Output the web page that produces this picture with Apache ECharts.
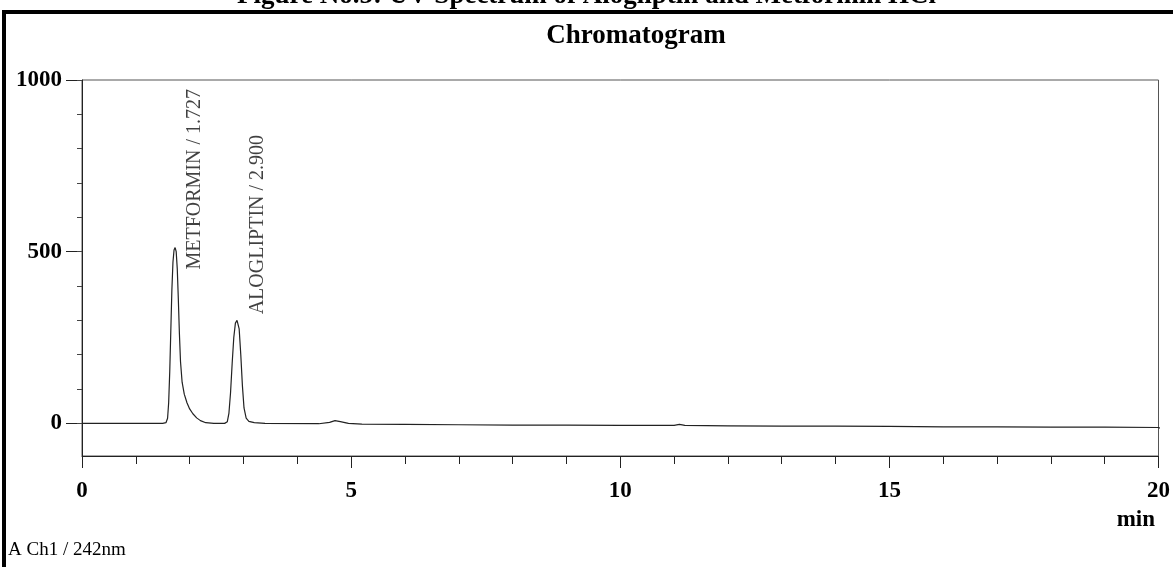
<!DOCTYPE html>
<html>
<head>
<meta charset="utf-8">
<script src="https://cdn.jsdelivr.net/npm/echarts@6/dist/echarts.min.js"></script>
<style>
  html, body { margin: 0; padding: 0; background: #fff; }
  #chart { width: 1173px; height: 567px; }
</style>
</head>
<body>
<div id="chart"></div>
<script>
// 色谱图数据 (min, mAU)
var traceTime = [0, 1.5, 1.56, 1.59, 1.61, 1.63, 1.65, 1.67, 1.69, 1.71, 1.73, 1.75, 1.77, 1.79, 1.81, 1.83, 1.86, 1.9, 1.95, 2.0, 2.06, 2.13, 2.2, 2.3, 2.45,
  2.65, 2.7, 2.73, 2.76, 2.79, 2.82, 2.85, 2.88, 2.9, 2.92, 2.95, 2.98, 3.01, 3.05, 3.1, 3.2, 3.4,
  4.4, 4.6, 4.7, 4.8, 4.95, 5.2, 6, 7, 8, 9, 10, 11.0, 11.1, 11.2, 12, 13, 14, 15, 16, 17, 18, 19, 20, 20.3]
var traceValue = [0, 0, 2, 15, 60, 150, 270, 390, 470, 505, 512, 500, 450, 360, 260, 180, 120, 85, 60, 42, 28, 16, 8, 2, 0,
  0, 5, 30, 90, 175, 250, 292, 300, 298, 275, 200, 110, 45, 15, 6, 2, 0,
  -1, 3, 8, 5, 0, -2, -3, -4, -5, -5, -6, -6, -3, -6, -7, -8, -8, -9, -10, -10, -11, -11, -12, -30]

// 峰标注
var peakNames = ['METFORMIN', 'ALOGLIPTIN']
var peakTimes = [1.727, 2.9]
var peakHeights = [512, 300]

var yTicks = [0, 500, 1000]
var yMinorTicks = [0, 100, 200, 300, 400, 500, 600, 700, 800, 900, 1000]

var myChart = echarts.init(document.getElementById('chart'))

var serif = 'Liberation Serif'
var traceData = traceTime.map(function (t, i) { return [t, traceValue[i]] })
// 标注位置偏移 (像素)
var labelOffsets = [[20, 22], [20, -6]]
var peakData = peakTimes.map(function (t, i) {
  return { name: peakNames[i], value: [t, peakHeights[i]], label: { position: labelOffsets[i] } }
})

var option = {
  animation: false,
  backgroundColor: '#fff',
  grid: {
    left: 82, top: 80, right: 14, bottom: 111,
    show: true,
    borderColor: '#555',
    borderWidth: 1
  },
  xAxis: {
    type: 'value',
    min: 0, max: 20, interval: 5,
    axisLine: { show: true, onZero: false, lineStyle: { color: '#222', width: 1 } },
    axisTick: { show: true, length: 12, lineStyle: { color: '#222' } },
    minorTick: { show: true, splitNumber: 5, length: 8, lineStyle: { color: '#222' } },
    splitLine: { show: false },
    axisLabel: { margin: 24, color: '#000', fontFamily: serif, fontWeight: 'bold', fontSize: 23 }
  },
  yAxis: [
    {
      type: 'value',
      min: -95, max: 1000,
      axisLine: { show: true, onZero: false, lineStyle: { color: '#222', width: 1 } },
      axisTick: { show: true, length: 16, customValues: yTicks, lineStyle: { color: '#222' } },
      axisLabel: {
        customValues: yTicks, margin: 20, color: '#000', fontFamily: serif, fontWeight: 'bold', fontSize: 23,
        formatter: function (v) { return String(v) }
      },
      splitLine: { show: false }
    },
    {
      // 小刻度
      type: 'value',
      min: -95, max: 1000,
      position: 'left',
      axisLine: { show: false },
      axisTick: { show: true, length: 5, customValues: yMinorTicks, lineStyle: { color: '#444' } },
      axisLabel: { show: false },
      splitLine: { show: false }
    }
  ],
  series: [
    {
      type: 'line',
      data: traceData,
      showSymbol: false,
      clip: false,
      lineStyle: { color: '#222', width: 1.2 }
    },
    {
      type: 'scatter',
      data: peakData,
      symbolSize: 0,
      label: {
        show: true,
        rotate: 90,
        align: 'left',
        verticalAlign: 'middle',
        fontFamily: serif,
        fontSize: 20,
        color: '#111',
        formatter: function (p) { return p.name + ' / ' + p.value[0].toFixed(3) }
      }
    }
  ],
  graphic: [
    // 图题，上半截被裁掉
    { type: 'text', left: 'center', top: -17, style: { text: 'Figure No.5: UV Spectrum of Alogliptin and Metformin HCl', font: 'bold 27px "Liberation Serif"', fill: '#000' } },
    // 外框粗线
    { type: 'rect', shape: { x: 4, y: 12, width: 1200, height: 600 }, style: { fill: 'none', stroke: '#000', lineWidth: 4 } },
    { type: 'text', x: 636, y: 23, style: { text: 'Chromatogram', font: 'bold 27px "Liberation Serif"', fill: '#000', align: 'center' } },
    { type: 'text', x: 1155, y: 509, style: { text: 'min', font: 'bold 23px "Liberation Serif"', fill: '#000', align: 'right' } },
    { type: 'text', x: 8, y: 541, style: { text: 'A Ch1 / 242nm', font: '19px "Liberation Serif"', fill: '#000' } }
  ]
}

myChart.setOption(option)
</script>
</body>
</html>
